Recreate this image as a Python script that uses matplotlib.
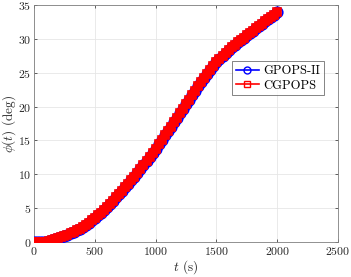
import matplotlib
matplotlib.use("Agg")
import matplotlib.pyplot as plt

# ---------------------------------------------------------------------------
# Data
# ---------------------------------------------------------------------------
t_sec = [
    0, 25, 50, 75, 100, 125, 150, 175, 200, 225, 250, 275, 300, 325, 350,
    375, 400, 425, 450, 475, 500, 525, 550, 575, 600, 625, 650, 675, 700,
    725, 750, 775, 800, 825, 850, 875, 900, 925, 950, 975, 1000, 1025, 1050,
    1075, 1100, 1125, 1150, 1175, 1200, 1225, 1250, 1275, 1300, 1325, 1350,
    1375, 1400, 1425, 1450, 1475, 1500, 1525, 1550, 1575, 1600, 1625, 1650,
    1675, 1700, 1725, 1750, 1775, 1800, 1825, 1850, 1875, 1900, 1925, 1950,
    1975, 2000,
]
phi_gpops = [
    0.00, 0.00, 0.00, 0.01, 0.04, 0.12, 0.24, 0.40, 0.58, 0.75, 0.92, 1.10,
    1.30, 1.52, 1.75, 2.00, 2.27, 2.56, 2.88, 3.22, 3.58, 3.96, 4.36, 4.78,
    5.20, 5.65, 6.12, 6.60, 7.10, 7.60, 8.10, 8.60, 9.12, 9.64, 10.18, 10.74,
    11.31, 11.90, 12.50, 13.12, 13.76, 14.42, 15.08, 15.74, 16.40, 17.06,
    17.72, 18.38, 19.04, 19.70, 20.36, 21.02, 21.68, 22.34, 23.00, 23.64,
    24.27, 24.88, 25.47, 26.03, 26.56, 27.06, 27.53, 27.97, 28.38, 28.76,
    29.12, 29.47, 29.82, 30.17, 30.52, 30.87, 31.22, 31.57, 31.91, 32.25,
    32.58, 32.90, 33.22, 33.55, 33.90,
]
phi_cgpops = list(phi_gpops)

x_ticks = [0, 500, 1000, 1500, 2000, 2500]
y_ticks = [0, 5, 10, 15, 20, 25, 30, 35]

# ---------------------------------------------------------------------------
# Style (MATLAB-like, LaTeX fonts)
# ---------------------------------------------------------------------------
AX_COL = "#262626"
plt.rcParams["font.family"] = "serif"
plt.rcParams["font.serif"] = ["cmr10", "DejaVu Serif"]
plt.rcParams["mathtext.fontset"] = "cm"
plt.rcParams["axes.formatter.use_mathtext"] = True

fig = plt.figure(figsize=(3.51, 2.77), dpi=100)
ax = fig.add_axes([0.097, 0.126, 0.866, 0.856])

ax.plot(t_sec, phi_gpops, "-o", color="blue", mfc="none", mec="blue",
        ms=7.5, mew=1.3, lw=1.2, label="GPOPS-II", zorder=3)
ax.plot(t_sec, phi_cgpops, "-s", color="red", mfc="red", mec="red",
        ms=6.0, mew=1.2, lw=1.2, label="CGPOPS", zorder=4)

ax.set_xlim(0, 2500)
ax.set_ylim(0, 35)
ax.set_xticks(x_ticks)
ax.set_yticks(y_ticks)
ax.grid(True, color="#e6e6e6", lw=0.6)
ax.set_axisbelow(True)
ax.tick_params(direction="in", length=2.5, width=0.5, top=True, right=True,
               labelsize=8.5, colors=AX_COL, pad=2)
for s in ax.spines.values():
    s.set_color("#7f7f7f")
    s.set_linewidth(0.6)

ax.set_xlabel("$t$ (s)", fontsize=9.5, color=AX_COL, labelpad=1)
ax.set_ylabel(r"$\phi(t)$ (deg)", fontsize=9.5, color=AX_COL, labelpad=0)

leg = ax.legend(loc="upper right", bbox_to_anchor=(0.975, 0.79),
                fontsize=9, frameon=True, fancybox=False,
                handlelength=1.8, borderpad=0.3, labelspacing=0.2,
                handletextpad=0.4)
leg.get_frame().set_edgecolor("#4d4d4d")
leg.get_frame().set_linewidth(0.6)
for h in leg.legend_handles:
    h.set_markeredgewidth(1.0)
    h.set_markerfacecolor("none")
    h.set_markersize(5)

fig.savefig("out.png", dpi=100)
